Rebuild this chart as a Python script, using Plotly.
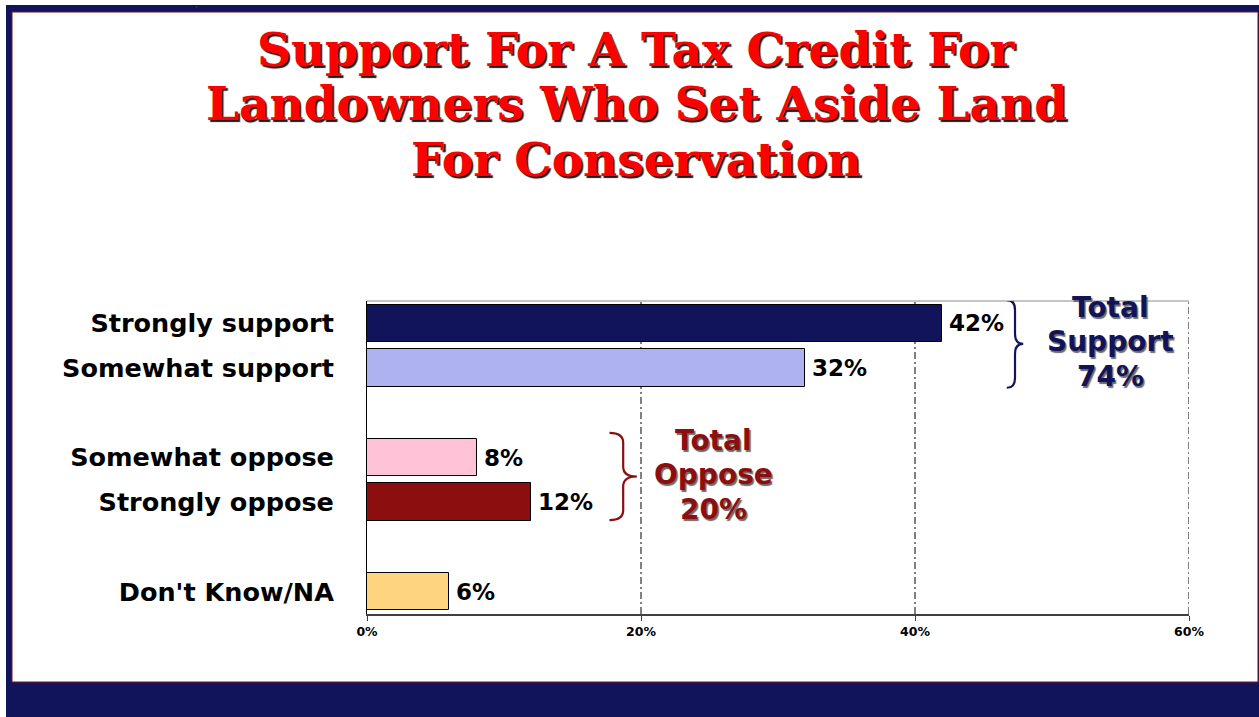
import plotly.graph_objects as go

# Survey responses (percent)
categories = ["Strongly support", "Somewhat support", "Somewhat oppose",
              "Strongly oppose", "Don't Know/NA"]
values = [42, 32, 8, 12, 6]
groups = [0, 0, 1, 1, 2]          # support / oppose / no answer
bar_colors = ["#11145A", "#AEB2EE", "#FFC2D6", "#8C0E0E", "#FFD47E"]
x_ticks = [0, 20, 40, 60]
x_tick_labels = ["0%", "20%", "40%", "60%"]

title_lines = ["Support For A Tax Credit For",
               "Landowners Who Set Aside Land",
               "For Conservation"]

NAVY = "#11145A"
DARK_RED = "#8C0E0E"

# slot of each bar: one empty slot between groups
positions = [i + g for i, g in enumerate(groups)]

W, H = 1259, 717
ML, MR, MT, MB = 367, 70, 301, 103
PW, PH = W - ML - MR, H - MT - MB


def px(x):
    return (x - ML) / PW


def py(y):
    return (H - MB - y) / PH


fig = go.Figure()
fig.add_trace(go.Bar(
    x=values, y=positions, orientation="h", width=0.84,
    marker=dict(color=bar_colors, line=dict(color="#000000", width=1)),
    hoverinfo="skip", showlegend=False,
))

shapes = [
    # slide frame
    dict(type="rect", xref="paper", yref="paper", layer="below",
         x0=px(6), x1=px(W + 10), y0=py(5), y1=py(H + 10),
         fillcolor=NAVY, line=dict(width=0)),
    dict(type="rect", xref="paper", yref="paper", layer="below",
         x0=px(12), x1=px(1258), y0=py(12), y1=py(682),
         fillcolor="#FFFFFF", line=dict(color="#7A1515", width=1)),
    # plot top border
    dict(type="line", xref="paper", yref="paper", layer="below",
         x0=0, x1=1, y0=1, y1=1, line=dict(color="#8C8C8C", width=1)),
]
# dash-dot gridlines
for t in x_ticks[1:]:
    shapes.append(dict(type="line", xref="x", yref="paper", layer="below",
                       x0=t, x1=t, y0=0, y1=1,
                       line=dict(color="#000000", width=1, dash="7px,3px,2px,3px")))


def brace(x0, x1, ytop, ybot, color):
    xm = (x0 + x1) / 2
    ymid = (ytop + ybot) / 2
    r = 0.22
    path = (f"M {x0},{ytop} Q {xm},{ytop} {xm},{ytop + r} "
            f"L {xm},{ymid - r} Q {xm},{ymid} {x1},{ymid} "
            f"Q {xm},{ymid} {xm},{ymid + r} "
            f"L {xm},{ybot - r} Q {xm},{ybot} {x0},{ybot}")
    return dict(type="path", xref="x", yref="y", path=path,
                line=dict(color=color, width=2.2))


sup = [p for p, g in zip(positions, groups) if g == 0]
opp = [p for p, g in zip(positions, groups) if g == 1]
shapes.append(brace(46.7, 47.9, min(sup) - 0.52, max(sup) + 0.44, NAVY))
shapes.append(brace(17.7, 19.7, min(opp) - 0.55, max(opp) + 0.4, DARK_RED))

annotations = []
# value labels
for v, p in zip(values, positions):
    annotations.append(dict(
        x=v, y=p, xref="x", yref="y", text=f"{v}%", showarrow=False,
        xanchor="left", yanchor="middle", xshift=5,
        font=dict(family="DejaVu Sans", size=23, color="#000000", weight="bold")))

# group totals
support_total = sum(v for v, g in zip(values, groups) if g == 0)
oppose_total = sum(v for v, g in zip(values, groups) if g == 1)


def total_block(xc, yc, lines, color):
    out = []
    shifts = [34, 0, -35]
    for txt, s in zip(lines, shifts):
        out.append(dict(
            x=xc, y=yc, xref="x", yref="y", text=txt, showarrow=False,
            xanchor="center", yanchor="middle", yshift=s,
            font=dict(family="DejaVu Sans", size=28, color=color, weight="bold",
                      shadow="1.5px 1.5px 1px #6A6A6A")))
    return out


annotations += total_block(54.3, sum(sup) / len(sup) - 0.1,
                           ["Total", "Support", f"{support_total}%"], NAVY)
annotations += total_block(25.3, sum(opp) / len(opp) - 0.12,
                           ["Total", "Oppose", f"{oppose_total}%"], DARK_RED)

# title
for txt, yc in zip(title_lines, [49, 104, 159]):
    annotations.append(dict(
        x=px(636), y=py(yc), xref="paper", yref="paper", text=txt,
        showarrow=False, xanchor="center", yanchor="middle",
        font=dict(family="DejaVu Serif", size=47, color="#FF0000", weight="bold",
                  shadow="2px 2px 1px #1A1A1A")))

annotations.append(dict(
    x=px(196), y=py(4), xref="paper", yref="paper", text=",",
    showarrow=False, xanchor="center", yanchor="middle",
    font=dict(family="Liberation Sans", size=9, color="#555555")))

fig.update_layout(
    template="none",
    width=W, height=H, autosize=False,
    margin=dict(l=ML, r=MR, t=MT, b=MB, pad=0),
    paper_bgcolor="#FFFFFF", plot_bgcolor="rgba(0,0,0,0)",
    shapes=shapes, annotations=annotations,
    bargap=0, showlegend=False,
    xaxis=dict(range=[0, 60], tickvals=x_ticks, ticktext=x_tick_labels,
               showgrid=False, zeroline=False, automargin=False,
               showline=True, linecolor="#404040", linewidth=2,
               ticks="outside", ticklen=5, tickcolor="#404040", tickwidth=1,
               tickfont=dict(family="DejaVu Sans", size=12.5, color="#000000",
                             weight="bold"),
               fixedrange=True),
    yaxis=dict(range=[6.5, -0.5], tickvals=positions, ticktext=categories,
               showgrid=False, zeroline=False, automargin=False,
               showline=True, linecolor="#000000", linewidth=1,
               ticks="", ticklabelstandoff=27,
               tickfont=dict(family="DejaVu Sans", size=25.5, color="#000000",
                             weight="bold"),
               fixedrange=True),
)

fig.write_html("out.html")
